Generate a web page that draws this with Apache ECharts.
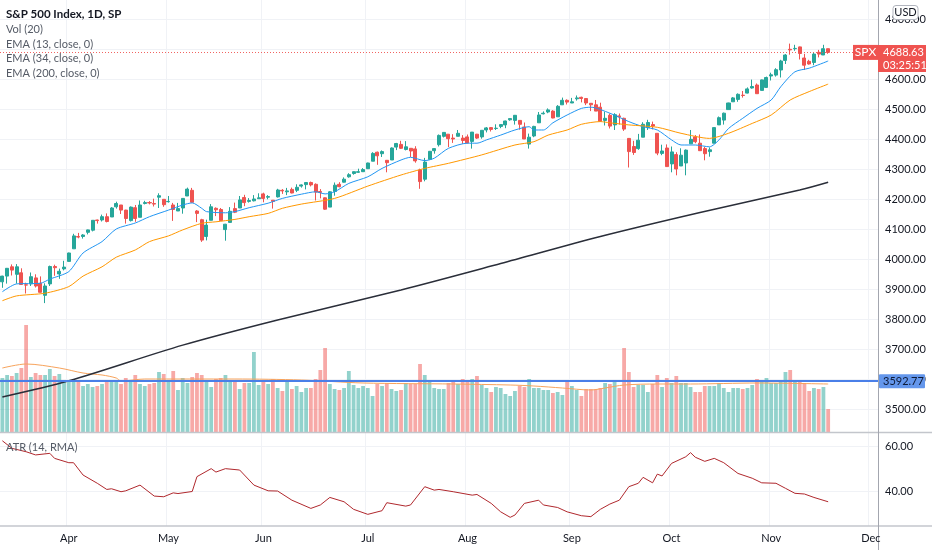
<!DOCTYPE html>
<html>
<head>
<meta charset="utf-8">
<script src="https://cdn.jsdelivr.net/npm/echarts@6/dist/echarts.min.js"></script>
<style>
html,body{margin:0;padding:0;background:#fff;}
#c{width:932px;height:550px;}
</style>
</head>
<body>
<div id="c"></div>
<script>
// ---- data (S&P 500 daily, Mar 12 – Nov 17, one entry per trading day) ----
const slotCount = 185; // bar slots on the time axis (incl. empty future slots)
const monthIdx = [14, 35, 55, 77, 98, 120, 141, 162, 183];
const monthNames = ['Apr', 'May', 'Jun', 'Jul', 'Aug', 'Sep', 'Oct', 'Nov', 'Dec'];

const open = [3924,3943,3974,3949,3954,3914,3917,3937,3919,3879,3917,3975,3950,3967,3992,4034,4075,4075,4089,4096,
4130,4130,4141,4140,4174,4180,4163,4128,4171,4139,4185,4188,4185,4206,4199,4191,4180,4160,4170,4210,
4229,4160,4131,4075,4129,4169,4165,4098,4122,4168,4170,4205,4192,4194,4201,4217,4206,4196,4207,4229,
4224,4232,4229,4243,4248,4255,4249,4225,4204,4173,4225,4249,4256,4274,4285,4289,4291,4301,4326,4356,
4351,4329,4330,4373,4382,4365,4369,4367,4297,4266,4332,4361,4381,4409,4416,4403,4409,4403,4407,4392,
4416,4407,4430,4438,4435,4442,4447,4464,4462,4462,4440,4383,4410,4454,4484,4490,4493,4474,4514,4529,
4520,4534,4539,4535,4519,4514,4506,4462,4479,4447,4477,4469,4402,4375,4368,4406,4438,4448,4419,4352,
4370,4317,4348,4310,4320,4384,4407,4386,4368,4358,4386,4447,4463,4498,4524,4532,4546,4553,4570,4580,
4562,4572,4610,4613,4630,4662,4699,4701,4707,4670,4659,4655,4689,4680,4701];
const close = [3943,3969,3963,3974,3915,3913,3941,3910,3889,3910,3975,3971,3959,3973,4020,4077,4073,4080,4097,4129,
4128,4141,4125,4170,4185,4163,4135,4173,4135,4180,4188,4187,4183,4211,4181,4192,4165,4168,4202,4233,
4189,4152,4063,4113,4174,4164,4128,4116,4159,4156,4197,4188,4195,4200,4204,4202,4208,4192,4230,4227,
4227,4220,4239,4247,4255,4247,4223,4222,4166,4224,4246,4241,4266,4281,4291,4291,4298,4320,4352,4344,
4358,4321,4370,4385,4369,4374,4360,4327,4258,4323,4359,4368,4412,4422,4401,4400,4419,4395,4387,4423,
4403,4429,4437,4432,4436,4448,4460,4468,4479,4449,4400,4406,4442,4480,4486,4497,4470,4509,4529,4523,
4524,4537,4535,4520,4514,4493,4459,4469,4443,4481,4474,4433,4358,4355,4396,4449,4455,4443,4353,4360,
4308,4357,4300,4346,4363,4399,4391,4361,4351,4364,4438,4471,4486,4520,4537,4549,4545,4567,4575,4551,
4597,4605,4614,4631,4660,4680,4697,4702,4685,4646,4650,4683,4683,4701,4688.63];
const low = [3904,3918,3945,3918,3914,3885,3910,3905,3888,3853,3910,3944,3934,3962,3992,4034,4069,4068,4082,4092,
4118,4125,4122,4140,4168,4150,4118,4125,4124,4139,4182,4182,4175,4170,4174,4188,4127,4160,4151,4210,
4188,4123,4057,4062,4129,4143,4127,4061,4122,4153,4170,4176,4188,4192,4201,4189,4199,4168,4205,4217,
4213,4219,4223,4238,4232,4242,4195,4202,4164,4173,4211,4239,4255,4271,4281,4287,4290,4300,4326,4314,
4340,4289,4330,4363,4367,4362,4340,4321,4234,4259,4332,4351,4375,4405,4373,4387,4409,4384,4385,4368,
4400,4401,4422,4425,4430,4436,4436,4461,4448,4431,4400,4368,4406,4454,4482,4486,4469,4474,4514,4515,
4520,4528,4522,4513,4493,4493,4457,4445,4435,4430,4448,4427,4305,4347,4364,4406,4430,4432,4346,4346,
4307,4289,4279,4310,4279,4384,4386,4360,4329,4341,4386,4447,4448,4498,4524,4524,4538,4552,4568,4551,
4562,4570,4595,4608,4605,4650,4681,4694,4665,4630,4648,4646,4672,4680,4684];
const high = [3944,3970,3982,3983,3969,3921,3955,3949,3942,3919,3978,3981,3968,3994,4021,4084,4087,4083,4098,4129,
4131,4148,4152,4173,4191,4180,4164,4175,4180,4195,4194,4193,4201,4219,4199,4210,4187,4187,4202,4238,
4237,4163,4134,4131,4183,4172,4170,4117,4173,4188,4210,4214,4203,4213,4219,4221,4213,4196,4234,4233,
4237,4238,4249,4249,4255,4258,4252,4233,4205,4226,4255,4256,4272,4286,4292,4301,4303,4321,4356,4358,
4362,4330,4372,4387,4394,4393,4369,4376,4301,4337,4360,4369,4415,4422,4416,4416,4430,4413,4415,4423,
4417,4429,4440,4439,4449,4449,4461,4468,4480,4462,4455,4418,4444,4490,4492,4502,4496,4513,4538,4532,
4537,4545,4541,4535,4520,4530,4521,4491,4485,4486,4485,4471,4403,4394,4417,4456,4464,4458,4420,4381,
4382,4375,4356,4369,4365,4430,4413,4415,4374,4372,4439,4475,4488,4521,4540,4552,4560,4572,4598,4585,
4598,4608,4621,4636,4664,4683,4718,4714,4708,4684,4664,4688,4697,4714,4701];

const volume = [54,57,56,59,64,107,55,59,57,57,63,56,58,51,51,51,50,46,48,45,
46,48,51,51,51,48,54,51,57,48,46,48,49,60,58,50,61,42,54,49,
55,59,57,51,45,53,54,57,50,50,43,49,49,80,47,50,48,53,44,41,
51,43,46,40,44,44,53,62,84,48,43,42,44,61,47,44,46,44,36,48,
46,49,43,41,42,49,48,48,68,57,50,44,43,43,49,50,48,53,52,53,
56,47,44,40,45,44,38,36,41,46,45,53,44,44,42,42,39,40,37,51,
46,42,36,43,43,43,44,49,48,50,44,84,60,45,47,47,40,48,57,45,
54,49,56,49,49,45,40,40,46,46,46,49,44,40,44,44,43,44,47,53,
52,54,49,49,50,60,62,52,50,49,41,44,43,45,23];
const volMA = [[0,64],[5,68],[12,64],[17,59],[21,57],[24,54],[25,51],[30,53],[49,53],[63,52],[76,49],[95,48],
[107,47],[112,46],[118,44],[124,42],[127,44],[131,47],[138,48],[145,48],[159,49],[174,48]];

const ema13 = [[0,3891],[3,3917],[8,3919],[10,3933],[14,3958],[17,4020],[21,4058],[24,4100],[28,4120],[31,4141],
[35,4163],[38,4180],[40,4187],[42,4169],[43,4158],[47,4154],[49,4158],[52,4171],[56,4186],[59,4202],[63,4216],
[66,4224],[68,4217],[70,4224],[73,4252],[77,4274],[80,4302],[84,4330],[86,4339],[89,4328],[91,4336],[94,4369],
[98,4386],[100,4386],[102,4397],[105,4413],[108,4430],[111,4441],[112,4430],[114,4430],[116,4454],[119,4480],
[122,4502],[124,4506],[128,4486],[132,4458],[135,4441],[138,4430],[141,4397],[143,4380],[146,4380],[149,4374],
[151,4397],[153,4435],[156,4469],[159,4502],[162,4530],[164,4574],[167,4624],[170,4636],[174,4660]];
const ema34 = [[0,3861],[3,3877],[9,3886],[14,3908],[17,3943],[21,3974],[24,4006],[28,4030],[31,4058],[35,4077],
[38,4097],[42,4119],[45,4124],[49,4132],[52,4141],[56,4152],[59,4169],[63,4183],[70,4202],[77,4243],[84,4280],
[89,4302],[94,4319],[101,4347],[108,4380],[112,4391],[115,4413],[119,4430],[122,4449],[126,4458],[128,4454],
[132,4447],[138,4439],[143,4419],[149,4402],[153,4419],[158,4452],[162,4480],[166,4530],[170,4558],[174,4583]];
const ema200 = [[0,3540],[14,3594],[38,3713],[58,3797],[84,3897],[105,3985],[126,4075],[147,4155],[168,4230],[174,4256]];

const atr = [[0,62.3],[2,59.0],[5,57.5],[7,56.1],[10,56.8],[11,54.6],[14,52.7],[15,52.7],[17,47.3],[20,43.7],
[22,41.0],[23,41.3],[25,40.0],[26,40.4],[29,42.9],[32,38.1],[34,37.8],[36,39.5],[37,39.2],[40,40.1],[41,46.6],
[44,50.1],[45,48.6],[47,50.1],[50,49.5],[53,42.9],[56,40.4],[58,40.3],[61,36.3],[65,32.7],[67,34.2],[69,37.5],
[72,35.6],[74,32.3],[77,30.1],[80,31.7],[81,35.2],[85,33.7],[86,34.2],[89,42.2],[91,40.7],[92,41.0],[95,40.0],
[99,38.5],[100,38.8],[103,34.9],[105,31.2],[107,28.8],[108,29.8],[110,34.9],[113,36.3],[114,34.2],[117,33.1],
[119,31.2],[122,29.5],[124,29.1],[126,32.3],[128,34.6],[130,36.3],[132,42.2],[134,43.7],[135,46.3],[137,43.9],
[138,47.7],[139,46.9],[141,52.4],[144,55.3],[145,57.1],[146,55.1],[148,53.3],[150,54.6],[152,52.7],[155,48.0],
[158,45.9],[160,43.9],[163,43.7],[165,41.5],[167,39.3],[169,39.0],[171,37.5],[174,35.6]];

const lastPrice = 4688.63;
const lastTimer = '03:25:51';
const hLevel = 3592.77;
const symbol = 'SPX';
const legendLines = ['Vol (20)', 'EMA (13, close, 0)', 'EMA (34, close, 0)', 'EMA (200, close, 0)'];
const titleText = 'S&P 500 Index, 1D, SP';

// ---- build ----
const UP = '#26a69a', DOWN = '#ef5350';
const FONT = 'Lato, "Liberation Sans", sans-serif';
const cats = Array.from({length: slotCount}, (_, i) => String(i));
const candles = open.map((o, i) => [o, close[i], low[i], high[i]]);
const volData = volume.map((v, i) => ({
  value: v,
  itemStyle: {color: close[i] >= open[i] ? 'rgba(38,166,154,0.5)' : 'rgba(239,83,80,0.5)'}
}));
const isMonth = (idx) => monthIdx.indexOf(idx) >= 0;
const gridLineColor = '#f0f2f6';

function xAxisCfg(gridIndex, showLabels) {
  return {
    type: 'category', gridIndex, data: cats, boundaryGap: true,
    axisLine: {show: false}, axisTick: {show: false},
    axisLabel: {
      show: showLabels, interval: (i) => isMonth(i),
      formatter: (v, i) => { const k = monthIdx.indexOf(i); return k >= 0 ? monthNames[k] : ''; },
      color: '#131722', fontFamily: FONT, fontSize: 11, margin: 7
    },
    splitLine: {show: gridIndex !== 1, interval: (i) => isMonth(i), lineStyle: {color: gridLineColor, width: 1}}
  };
}

const chart = echarts.init(document.getElementById('c'), null, {renderer: 'canvas'});
chart.setOption({
  animation: false,
  backgroundColor: '#ffffff',
  grid: [
    {left: 0, top: 0, width: 878, height: 432},
    {left: 0, top: 320, width: 878, height: 112},
    {left: 0, top: 433, width: 878, height: 93}
  ],
  xAxis: [xAxisCfg(0, false), xAxisCfg(1, false), xAxisCfg(2, false)],
  yAxis: [
    {
      type: 'value', gridIndex: 0, position: 'right', min: 3423.33, max: 4863.33, splitNumber: 14, scale: true,
      axisLine: {show: false}, axisTick: {show: false},
      axisLabel: {formatter: (v) => v.toFixed(2), color: '#131722', fontFamily: FONT, fontSize: 11, margin: 7,
                  showMinLabel: false, showMaxLabel: false},
      splitLine: {show: true, showMinLine: false, showMaxLine: false, lineStyle: {color: gridLineColor}}
    },
    {type: 'value', gridIndex: 1, min: 0, max: 112, show: false, splitLine: {show: false}},
    {
      type: 'value', gridIndex: 2, position: 'right', min: 25, max: 65.7, splitNumber: 2,
      axisLine: {show: false}, axisTick: {show: false},
      axisLabel: {formatter: (v) => v.toFixed(2), color: '#131722', fontFamily: FONT, fontSize: 11, margin: 7,
                  showMinLabel: false, showMaxLabel: false},
      splitLine: {show: true, showMinLine: false, showMaxLine: false, lineStyle: {color: gridLineColor}}
    }
  ],
  series: [
    {
      name: 'Vol', type: 'bar', xAxisIndex: 1, yAxisIndex: 1, data: volData,
      barWidth: '80%', z: 1, silent: true
    },
    {
      name: 'Vol MA', type: 'line', xAxisIndex: 1, yAxisIndex: 1, data: volMA,
      symbol: 'none', smooth: 0.3, lineStyle: {color: '#f7a35c', width: 1}, z: 2, silent: true
    },
    {
      name: 'SPX', type: 'candlestick', xAxisIndex: 0, yAxisIndex: 0, data: candles,
      barWidth: '74%', z: 3,
      itemStyle: {color: UP, color0: DOWN, borderColor: UP, borderColor0: DOWN, borderWidth: 1},
      markLine: {
        silent: true, symbol: ['none', 'none'], animation: false,
        label: {show: false},
        data: [
          {yAxis: lastPrice, lineStyle: {color: '#ef5350', type: [1, 2], width: 1, opacity: 0.9}}
        ]
      }
    },
    {
      name: 'EMA13', type: 'line', xAxisIndex: 0, yAxisIndex: 0, data: ema13, symbol: 'none', smooth: 0.25,
      lineStyle: {color: '#2196f3', width: 1}, z: 4, silent: true
    },
    {
      name: 'EMA34', type: 'line', xAxisIndex: 0, yAxisIndex: 0, data: ema34, symbol: 'none', smooth: 0.25,
      lineStyle: {color: '#ff9800', width: 1}, z: 4, silent: true
    },
    {
      name: 'EMA200', type: 'line', xAxisIndex: 0, yAxisIndex: 0, data: ema200, symbol: 'none', smooth: 0.3,
      lineStyle: {color: '#2a2e39', width: 1.5}, z: 4, silent: true,
      markLine: {
        silent: true, symbol: ['none', 'none'], animation: false, z: 6,
        label: {show: false},
        data: [{yAxis: hLevel, lineStyle: {color: '#4a7fe8', type: 'solid', width: 2}}]
      }
    },
    {
      name: 'ATR', type: 'line', xAxisIndex: 2, yAxisIndex: 2, data: atr, symbol: 'none',
      lineStyle: {color: '#b0282d', width: 1}, silent: true
    }
  ]
});

// ---- overlay labels, positioned through the chart's own scales ----
const yLast = chart.convertToPixel({yAxisIndex: 0}, lastPrice);
const yH = chart.convertToPixel({yAxisIndex: 0}, hLevel);
const txt = (x, y, text, opt) => Object.assign({
  type: 'text', x, y, silent: true, z: 100,
  style: Object.assign({text, fill: '#555b66', font: '11px ' + FONT, textVerticalAlign: 'middle'}, opt || {})
});
const graphics = [
  // pane borders and price-axis line
  {type: 'line', silent: true, z: 50, shape: {x1: 0, y1: 432.5, x2: 932, y2: 432.5}, style: {stroke: '#c3c6cc', lineWidth: 1.5}},
  {type: 'line', silent: true, z: 50, shape: {x1: 0, y1: 526, x2: 932, y2: 526}, style: {stroke: '#c3c6cc', lineWidth: 1.5}},
  {type: 'line', silent: true, z: 50, shape: {x1: 878.5, y1: 0, x2: 878.5, y2: 550}, style: {stroke: '#a3a6af', lineWidth: 1}},
  // legend
  txt(6, 14, titleText, {fill: '#131722', font: 'bold 11.5px ' + FONT}),
  txt(6, 29.5, legendLines[0]),
  txt(6, 44, legendLines[1]),
  txt(6, 58.5, legendLines[2]),
  txt(6, 73, legendLines[3]),
  txt(6, 447, 'ATR (14, RMA)'),
  // USD badge
  {type: 'rect', silent: true, z: 100, shape: {x: 893, y: 5.5, width: 25, height: 14, r: 3},
   style: {fill: '#ffffff', stroke: '#b2b5be', lineWidth: 1}},
  txt(905.5, 12.5, 'USD', {fill: '#131722', textAlign: 'center'}),
  // last-price labels
  {type: 'rect', silent: true, z: 100, shape: {x: 853, y: yLast - 7.5, width: 25, height: 15}, style: {fill: '#ef5350'}},
  txt(865.5, yLast, symbol, {fill: '#ffffff', textAlign: 'center', font: '12px ' + FONT}),
  {type: 'rect', silent: true, z: 100, shape: {x: 878, y: yLast - 7.5, width: 48, height: 27}, style: {fill: '#ef5350'}},
  txt(883, yLast, lastPrice.toFixed(2), {fill: '#ffffff', font: '11px ' + FONT}),
  txt(883, yLast + 13, lastTimer, {fill: '#ffffff', font: '11px ' + FONT}),
  // horizontal level label
  {type: 'rect', silent: true, z: 100, shape: {x: 879, y: yH - 7, width: 46, height: 14, r: 1}, style: {fill: '#6497ec'}},
  txt(883, yH, hLevel.toFixed(2), {fill: '#0e1a36', font: '11px ' + FONT})
];
// month labels on the time axis, drawn under the ATR pane
monthIdx.forEach((idx, k) => {
  const x = chart.convertToPixel({xAxisIndex: 2}, String(idx));
  graphics.push(txt(x, 538, monthNames[k], {fill: '#131722', textAlign: 'center'}));
});
chart.setOption({graphic: graphics});
</script>
</body>
</html>
